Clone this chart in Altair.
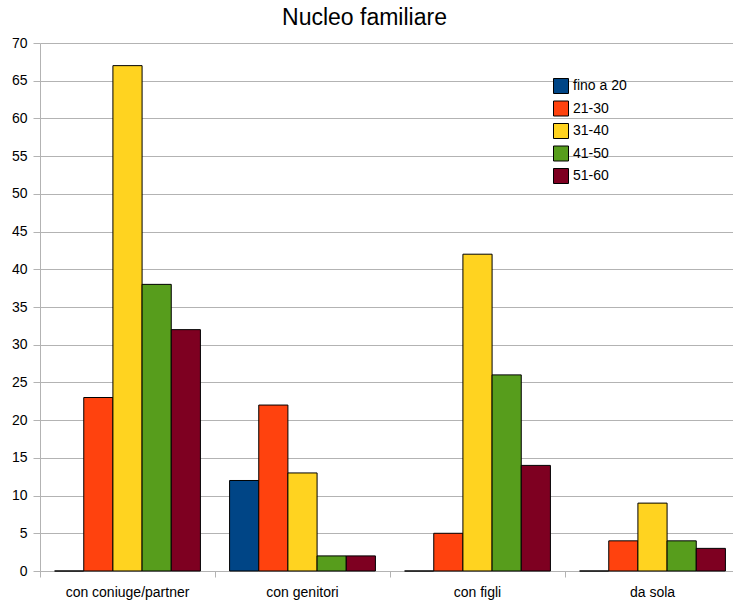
import altair as alt
import pandas as pd

# Household composition by age group
categories = ["con coniuge/partner", "con genitori", "con figli", "da sola"]
age_groups = ["fino a 20", "21-30", "31-40", "41-50", "51-60"]
colors = ["#004586", "#ff420e", "#ffd320", "#579d1c", "#7e0021"]

fino_a_20 = [0, 12, 0, 0]
eta_21_30 = [23, 22, 5, 4]
eta_31_40 = [67, 13, 42, 9]
eta_41_50 = [38, 2, 26, 4]
eta_51_60 = [32, 2, 14, 3]

series = [fino_a_20, eta_21_30, eta_31_40, eta_41_50, eta_51_60]
rows = []
for group, values in zip(age_groups, series):
    for cat, v in zip(categories, values):
        rows.append({"categoria": cat, "eta": group, "valore": v})
df = pd.DataFrame(rows)

FONT = "Liberation Sans"
GRID = "#b3b3b3"

chart = alt.Chart(df).mark_bar(stroke="black", strokeWidth=1).encode(
    x=alt.X(
        "categoria:N",
        sort=categories,
        title=None,
        scale=alt.Scale(paddingInner=0, paddingOuter=0, range=[0, 700]),
        axis=alt.Axis(
            labelAngle=0,
            labelFontSize=14,
            labelFont=FONT,
            labelColor="#000000",
            labelPadding=8,
            bandPosition=0,
            tickSize=6,
            tickColor=GRID,
            domainColor=GRID,
            grid=False,
        ),
    ),
    xOffset=alt.XOffset(
        "eta:N", sort=age_groups,
        scale=alt.Scale(paddingInner=0, paddingOuter=0.5),
    ),
    y=alt.Y(
        "valore:Q",
        title=None,
        scale=alt.Scale(domain=[0, 70], nice=False),
        axis=alt.Axis(
            values=list(range(0, 71, 5)),
            labelFontSize=14,
            labelFont=FONT,
            labelColor="#000000",
            labelPadding=6,
            tickSize=7,
            tickColor=GRID,
            domainColor=GRID,
            gridColor=GRID,
        ),
    ),
    color=alt.Color(
        "eta:N",
        sort=age_groups,
        scale=alt.Scale(domain=age_groups, range=colors),
        legend=alt.Legend(
            title=None,
            orient="none",
            legendX=513,
            legendY=35,
            symbolType="square",
            symbolSize=225,
            symbolStrokeColor="black",
            symbolStrokeWidth=1,
            symbolOpacity=1,
            labelFontSize=14,
            labelFont=FONT,
            labelColor="#000000",
            labelOffset=4,
            rowPadding=2.5,
            padding=0,
        ),
    ),
).properties(
    width=693,
    height=528,
    title=alt.TitleParams(
        "Nucleo familiare", fontSize=23, font=FONT, fontWeight="normal",
        color="#000000", anchor="middle", offset=6, dx=-22,
    ),
    padding={"left": 40, "top": 43, "right": 0, "bottom": 30},
    autosize=alt.AutoSizeParams(type="none"),
).configure_view(stroke=None)

chart.save("out.html", embed_options={"renderer": "svg", "actions": False})
